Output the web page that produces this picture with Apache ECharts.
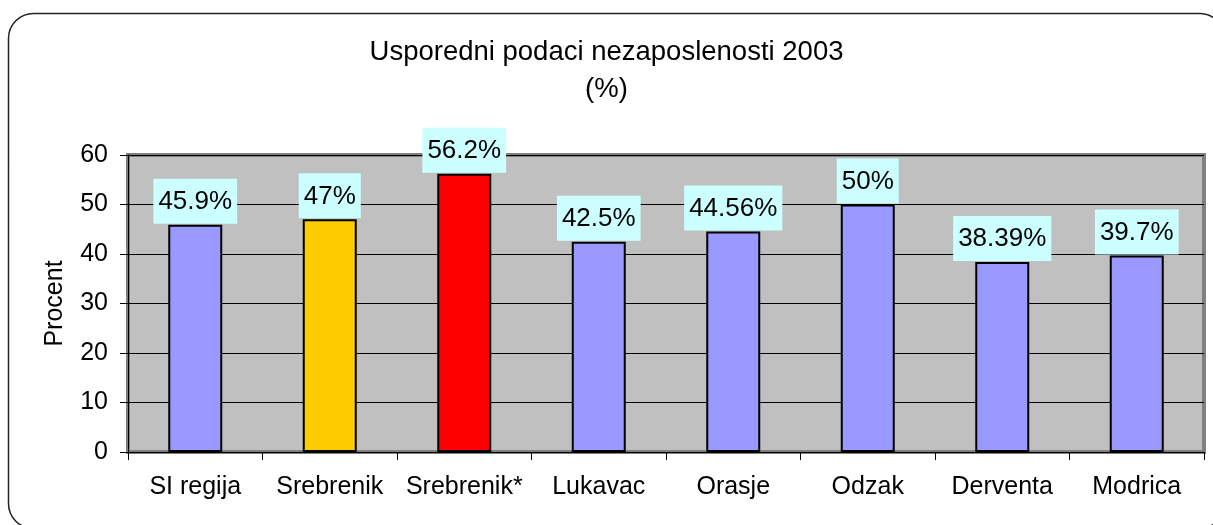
<!DOCTYPE html>
<html>
<head>
<meta charset="utf-8">
<script src="https://cdn.jsdelivr.net/npm/echarts@6/dist/echarts.min.js"></script>
<style>
  html, body { margin: 0; padding: 0; background: #ffffff; }
  #chart { width: 1213px; height: 525px; }
</style>
</head>
<body>
<div id="chart"></div>
<script>
// podaci
const categories = ['SI regija', 'Srebrenik', 'Srebrenik*', 'Lukavac', 'Orasje', 'Odzak', 'Derventa', 'Modrica'];
const values = [45.9, 47, 56.2, 42.5, 44.56, 50, 38.39, 39.7];
const barColors = ['#9999FF', '#FFCC00', '#FF0000', '#9999FF', '#9999FF', '#9999FF', '#9999FF', '#9999FF'];
const yTicks = [0, 10, 20, 30, 40, 50, 60];

const font = 'Arial, "Liberation Sans", sans-serif';

const chart = echarts.init(document.getElementById('chart'));

const option = {
  backgroundColor: '#ffffff',
  animation: false,
  graphic: [
    {
      type: 'rect',
      shape: { x: 8.5, y: 13.5, width: 1216, height: 515, r: 25 },
      style: { fill: 'none', stroke: '#222222', lineWidth: 1.5 },
      z: -1
    }
  ],
  title: {
    text: 'Usporedni podaci nezaposlenosti 2003\n(%)',
    left: 'center',
    top: 29,
    textStyle: {
      fontFamily: font,
      fontSize: 27.5,
      fontWeight: 'normal',
      color: '#000000',
      lineHeight: 37
    }
  },
  grid: {
    left: 128,
    right: 9,
    top: 155,
    bottom: 73,
    show: true,
    backgroundColor: '#C0C0C0',
    borderColor: '#808080',
    borderWidth: 4
  },
  xAxis: {
    type: 'category',
    data: categories,
    axisLine: { lineStyle: { color: '#000000', width: 1 } },
    axisTick: { show: true, length: 8, lineStyle: { color: '#000000' } },
    axisLabel: {
      margin: 23,
      fontFamily: font,
      fontSize: 25,
      color: '#000000',
      interval: 0
    }
  },
  yAxis: {
    type: 'value',
    min: 0,
    max: 60,
    interval: 10,
    name: 'Procent',
    nameLocation: 'middle',
    nameGap: 60,
    nameTextStyle: { fontFamily: font, fontSize: 25, color: '#000000' },
    axisLine: { show: true, lineStyle: { color: '#000000', width: 1 } },
    axisTick: { show: true, length: 8, lineStyle: { color: '#000000' } },
    axisLabel: {
      margin: 20,
      fontFamily: font,
      fontSize: 25,
      color: '#000000',
      formatter: function (v) { return yTicks.indexOf(v) >= 0 ? String(v) : ''; }
    },
    splitLine: { show: true, lineStyle: { color: '#000000', width: 1 } }
  },
  series: [
    {
      type: 'bar',
      barWidth: 54,
      data: values.map(function (v, i) {
        return { value: v, itemStyle: { color: barColors[i] } };
      }),
      itemStyle: { borderColor: '#000000', borderWidth: 2 },
      label: {
        show: true,
        position: 'top',
        distance: 1,
        fontFamily: font,
        fontSize: 26,
        lineHeight: 26,
        color: '#000000',
        backgroundColor: '#CCFFFF',
        padding: [10, 5, 9, 5],
        formatter: function (p) { return p.value + '%'; }
      }
    }
  ]
};

chart.setOption(option);
</script>
</body>
</html>
